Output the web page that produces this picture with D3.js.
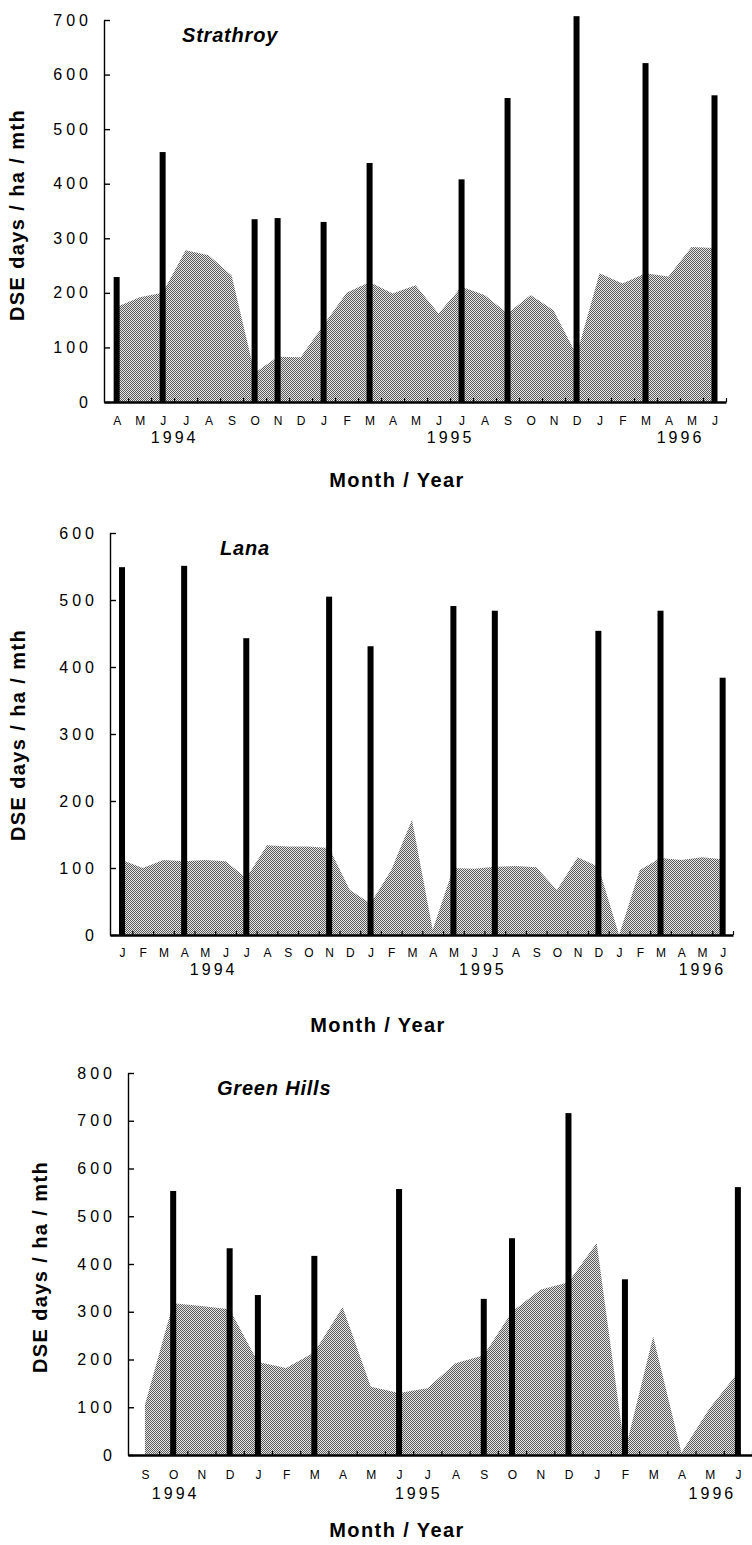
<!DOCTYPE html>
<html>
<head>
<meta charset="utf-8">
<script src="https://cdn.jsdelivr.net/npm/d3@7"></script>
<style>
  body { margin: 0; background: #fff; }
  text { font-family: 'Liberation Sans', Arial, Helvetica, sans-serif; fill: #000; }
  .month text { font-size: 12px; }
  .year text { font-size: 16px; letter-spacing: 3px; }
  .yaxis text { font-size: 16px; letter-spacing: 4px; }
  .title { font-size: 20px; font-weight: bold; font-style: italic; letter-spacing: 0.8px; }
  .label { font-size: 20px; font-weight: bold; letter-spacing: 1.4px; }
</style>
</head>
<body>
<svg id="thesvg" width="752" height="1545"></svg>
<script>
'use strict';

// --- Strathroy: Apr 1994 .. Jun 1996
const strathroyMonths = ["A","M","J","J","A","S","O","N","D","J","F","M","A","M","J","J","A","S","O","N","D","J","F","M","A","M","J"];
const strathroyPasture = [174, 192, 200, 278, 269, 232, 53, 83, 82, 141, 200, 220, 199, 214, 162, 211, 196, 162, 196, 168, 86, 236, 217, 236, 230, 284, 282];
const strathroyBarMonths = [0, 2, 6, 7, 9, 11, 15, 17, 20, 23, 26];
const strathroyBarValues = [229, 458, 335, 337, 330, 438, 408, 557, 707, 621, 562];
const strathroyYears = ["1994", "1995", "1996"];
const strathroyYearAt = [2.5, 14.5, 24.5];

// --- Lana: Jan 1994 .. Jun 1996
const lanaMonths = ["J","F","M","A","M","J","J","A","S","O","N","D","J","F","M","A","M","J","J","A","S","O","N","D","J","F","M","A","M","J"];
const lanaPasture = [112, 100, 112, 110, 112, 110, 85, 134, 132, 132, 130, 67, 47, 97, 172, 8, 100, 99, 102, 103, 101, 67, 116, 102, 0, 97, 115, 112, 116, 113];
const lanaBarMonths = [0, 3, 6, 10, 12, 16, 18, 23, 26, 29];
const lanaBarValues = [549, 551, 443, 505, 431, 491, 484, 454, 484, 384];
const lanaYears = ["1994", "1995", "1996"];
const lanaYearAt = [4.4, 17.4, 28.0];

// --- Green Hills: Sep 1994 .. Jun 1996
const greenMonths = ["S","O","N","D","J","F","M","A","M","J","J","A","S","O","N","D","J","F","M","A","M","J"];
const greenPasture = [105, 318, 312, 305, 195, 182, 215, 310, 143, 130, 140, 192, 209, 300, 346, 362, 444, 8, 248, 5, 98, 172];
const greenBarMonths = [1, 3, 4, 6, 9, 12, 13, 15, 17, 21];
const greenBarValues = [553, 433, 335, 417, 557, 327, 454, 716, 368, 561];
const greenYears = ["1994", "1995", "1996"];
const greenYearAt = [1.07, 9.68, 20.08];

const yTitle = "DSE days / ha / mth",
      xTitle = "Month / Year";

var svg = d3.select("#thesvg");

svg.append("rect").attr("width", 752).attr("height", 1545).attr("fill", "#fff");

// stippled grey, like the halftone in the scan
var pat = svg.append("defs").append("pattern")
    .attr("id", "stipple")
    .attr("patternUnits", "userSpaceOnUse")
    .attr("width", 2).attr("height", 2);
pat.append("rect").attr("width", 2).attr("height", 2).attr("fill", "#e6e6e6");
pat.append("rect").attr("width", 1).attr("height", 1).attr("fill", "#5a5a5a");
pat.append("rect").attr("x", 1).attr("y", 1).attr("width", 1).attr("height", 1).attr("fill", "#5a5a5a");

var panels = [
  {name: "Strathroy", months: strathroyMonths, pasture: strathroyPasture,
   barMonths: strathroyBarMonths, barValues: strathroyBarValues,
   years: strathroyYears, yearAt: strathroyYearAt, yMax: 700,
   left: 104, right: 726, top: 20, bottom: 402, xLo: -0.55,
   titleX: 182, titleY: 42, yLabelX: 24, yLabelY: 215, xLabelX: 397, xLabelY: 487,
   monthPad: 14, yearPad: 30},
  {name: "Lana", months: lanaMonths, pasture: lanaPasture,
   barMonths: lanaBarMonths, barValues: lanaBarValues,
   years: lanaYears, yearAt: lanaYearAt, yMax: 600,
   left: 110, right: 733, top: 533, bottom: 935, xLo: -0.58,
   titleX: 220, titleY: 555, yLabelX: 25, yLabelY: 735, xLabelX: 378, xLabelY: 1032,
   monthPad: 13, yearPad: 29},
  {name: "Green Hills", months: greenMonths, pasture: greenPasture,
   barMonths: greenBarMonths, barValues: greenBarValues,
   years: greenYears, yearAt: greenYearAt, yMax: 800,
   left: 128, right: 752, top: 1073, bottom: 1455, xLo: -0.6,
   titleX: 217, titleY: 1095, yLabelX: 47, yLabelY: 1267, xLabelX: 397, xLabelY: 1537,
   monthPad: 15, yearPad: 33}
];

function drawPanel(p) {
  var n = p.months.length,
      x = d3.scaleLinear().domain([p.xLo, n - 0.5]).range([p.left, p.right]),
      y = d3.scaleLinear().domain([0, p.yMax]).range([p.bottom, p.top]);

  var g = svg.append("g").attr("class", "panel");

  // pasture area
  g.append("path")
      .datum(p.pasture)
      .attr("fill", "url(#stipple)")
      .attr("d", d3.area()
          .x(function(d, i) { return x(i); })
          .y0(y(0))
          .y1(function(d) { return y(d); }));

  // grazing bars
  var bars = p.barMonths.map(function(m, i) { return {m: m, v: p.barValues[i]}; });
  g.selectAll(".bar")
      .data(bars)
    .enter().append("rect")
      .attr("class", "bar")
      .attr("x", function(d) { return x(d.m) - 3; })
      .attr("width", 6)
      .attr("y", function(d) { return y(d.v); })
      .attr("height", function(d) { return y(0) - y(d.v); })
      .attr("fill", "#000");

  // y axis, ticks point inwards
  g.append("g")
      .attr("class", "yaxis")
      .attr("transform", "translate(" + p.left + ",0)")
      .call(d3.axisLeft(y).tickValues(d3.range(0, p.yMax + 1, 100))
          .tickSize(-6).tickSizeOuter(0).tickPadding(12).tickFormat(d3.format("d")))
      .call(function(a) {
        a.select(".domain").attr("stroke-width", 1.4);
        a.selectAll(".tick line").attr("stroke-width", 1.4);
      });

  // x axis baseline with small month-boundary ticks
  g.append("g")
      .attr("class", "xaxis")
      .attr("transform", "translate(0," + p.bottom + ")")
      .call(d3.axisBottom(x).tickValues(d3.range(0.5, n, 1))
          .tickSize(-4).tickSizeOuter(0).tickFormat(""))
      .call(function(a) {
        a.select(".domain").attr("stroke-width", 2.6);
        a.selectAll(".tick line").attr("stroke-width", 1.2);
      });

  // month letters
  g.append("g")
      .attr("class", "month")
      .attr("transform", "translate(0," + p.bottom + ")")
      .call(d3.axisBottom(x).tickValues(d3.range(0, n))
          .tickSize(0).tickPadding(p.monthPad)
          .tickFormat(function(i) { return p.months[i]; }))
      .call(function(a) { a.select(".domain").remove(); });

  // years
  g.append("g")
      .attr("class", "year")
      .attr("transform", "translate(0," + p.bottom + ")")
      .call(d3.axisBottom(x).tickValues(p.yearAt)
          .tickSize(0).tickPadding(p.yearPad)
          .tickFormat(function(v, i) { return p.years[i]; }))
      .call(function(a) { a.select(".domain").remove(); });

  g.append("text")
      .attr("class", "title")
      .attr("x", p.titleX)
      .attr("y", p.titleY)
      .text(p.name);

  g.append("text")
      .attr("class", "label")
      .attr("transform", "translate(" + p.yLabelX + "," + p.yLabelY + ") rotate(-90)")
      .attr("text-anchor", "middle")
      .text(yTitle);

  g.append("text")
      .attr("class", "label")
      .attr("x", p.xLabelX)
      .attr("y", p.xLabelY)
      .attr("text-anchor", "middle")
      .text(xTitle);
}

panels.forEach(drawPanel);
</script>
</body>
</html>
